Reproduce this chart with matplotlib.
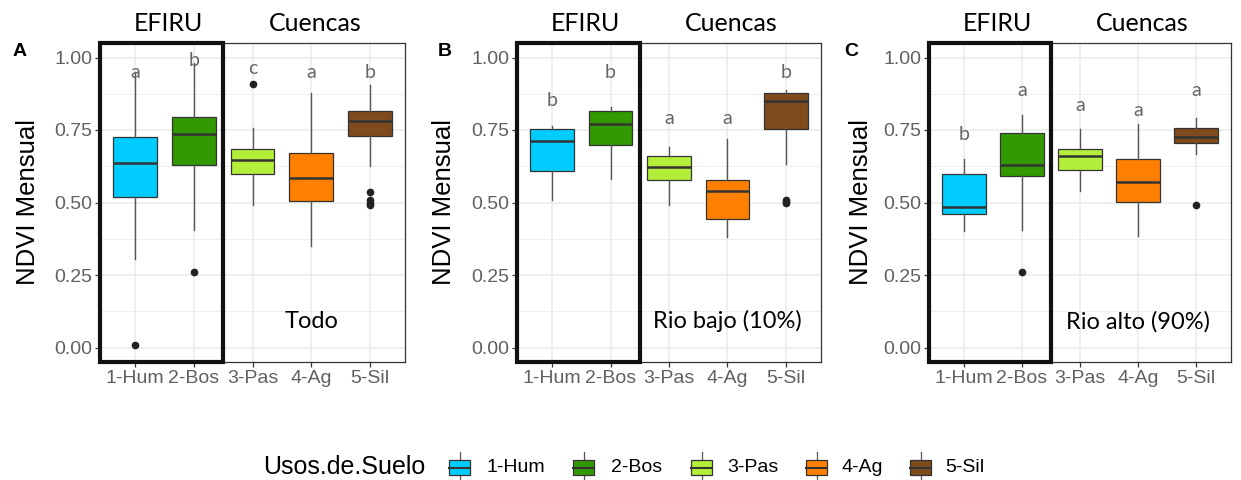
import matplotlib
matplotlib.use("Agg")
import matplotlib.pyplot as plt
from matplotlib.patches import Rectangle
from matplotlib.lines import Line2D
from matplotlib.transforms import blended_transform_factory

# ---------------- data ----------------
categories = ['1-Hum', '2-Bos', '3-Pas', '4-Ag', '5-Sil']
colors = ['#00CCFF', '#339900', '#B3EE3A', '#FF8000', '#7F4A1C']

# Panel A (Todo)
A_lo = [0.305, 0.405, 0.493, 0.351, 0.626]
A_q1 = [0.518, 0.630, 0.599, 0.506, 0.728]
A_med = [0.636, 0.737, 0.645, 0.585, 0.780]
A_q3 = [0.726, 0.795, 0.685, 0.672, 0.817]
A_hi = [0.950, 0.980, 0.758, 0.878, 0.904]
A_out = [[0.010], [0.259], [0.907], [], [0.536, 0.507, 0.498, 0.490]]
A_letters = ['a', 'b', 'c', 'a', 'b']
A_letter_y = [0.947, 0.988, 0.962, 0.950, 0.950]

# Panel B (Rio bajo)
B_lo = [0.509, 0.582, 0.493, 0.382, 0.634]
B_q1 = [0.608, 0.697, 0.576, 0.442, 0.753]
B_med = [0.713, 0.772, 0.624, 0.541, 0.849]
B_q3 = [0.752, 0.817, 0.659, 0.578, 0.876]
B_hi = [0.765, 0.829, 0.691, 0.720, 0.887]
B_out = [[], [], [], [], [0.509, 0.503, 0.498]]
B_letters = ['b', 'b', 'a', 'a', 'b']
B_letter_y = [0.853, 0.950, 0.789, 0.789, 0.950]

# Panel C (Rio alto)
C_lo = [0.403, 0.406, 0.538, 0.386, 0.666]
C_q1 = [0.460, 0.591, 0.611, 0.502, 0.706]
C_med = [0.486, 0.629, 0.661, 0.571, 0.726]
C_q3 = [0.599, 0.740, 0.684, 0.649, 0.757]
C_hi = [0.651, 0.801, 0.755, 0.772, 0.793]
C_out = [[], [0.259], [], [], [0.490]]
C_letters = ['b', 'a', 'a', 'a', 'a']
C_letter_y = [0.734, 0.885, 0.835, 0.818, 0.885]

panel_tags = ['A', 'B', 'C']
panel_notes = ['Todo', 'Rio bajo (10%)', 'Rio alto (90%)']
y_ticks = [0.00, 0.25, 0.50, 0.75, 1.00]
y_ticklabels = ['0.00', '0.25', '0.50', '0.75', '1.00']
legend_title = 'Usos.de.Suelo'

panels = [
    (A_lo, A_q1, A_med, A_q3, A_hi, A_out, A_letters, A_letter_y),
    (B_lo, B_q1, B_med, B_q3, B_hi, B_out, B_letters, B_letter_y),
    (C_lo, C_q1, C_med, C_q3, C_hi, C_out, C_letters, C_letter_y),
]

# ---------------- figure ----------------
W, H = 1241, 480
fig = plt.figure(figsize=(W / 100, H / 100), dpi=100)
fig.patch.set_facecolor('white')

SANS = ['Liberation Sans', 'DejaVu Sans']
CAL = ['Lato', 'DejaVu Sans']

axes_px = [(100, 305), (517, 304), (929, 302)]
top_px, bot_px = 43, 362
tag_x = [20, 445, 851]
ylab_x = [28, 444, 861]

for i, (ax_l, ax_w) in enumerate(axes_px):
    lo, q1, med, q3, hi, outs, letters, ly = panels[i]
    ax = fig.add_axes([ax_l / W, (H - bot_px) / H, ax_w / W, (bot_px - top_px) / H])
    ax.set_facecolor('white')
    stats = []
    for k in range(len(categories)):
        stats.append(dict(med=med[k], q1=q1[k], q3=q3[k], whislo=lo[k], whishi=hi[k],
                          fliers=outs[k], label=categories[k]))
    bp = ax.bxp(stats, positions=range(1, 6), widths=0.75, patch_artist=True,
                showcaps=False, zorder=3,
                boxprops=dict(edgecolor='#333333', linewidth=0.9),
                medianprops=dict(color='#333333', linewidth=1.8),
                whiskerprops=dict(color='#555555', linewidth=1.0),
                flierprops=dict(marker='o', markerfacecolor='#222222',
                                markeredgecolor='#222222', markersize=4.5))
    for patch, c in zip(bp['boxes'], colors):
        patch.set_facecolor(c)

    ax.set_xlim(0.4, 5.6)
    ax.set_ylim(-0.05, 1.05)
    ax.set_yticks(y_ticks)
    ax.set_yticklabels(y_ticklabels)
    ax.set_yticks([0.125, 0.375, 0.625, 0.875], minor=True)
    ax.set_xticks(range(1, 6))
    ax.set_xticklabels(categories)
    ax.grid(True, which='major', color='#EBEBEB', linewidth=1.1, zorder=0)
    ax.grid(True, which='minor', axis='y', color='#EBEBEB', linewidth=0.6, zorder=0)
    ax.set_axisbelow(True)
    ax.tick_params(axis='both', which='major', length=3.5, width=0.9, color='#333333',
                   labelcolor='#606060', labelsize=14, pad=2)
    ax.tick_params(axis='y', which='minor', length=0)
    for lab in ax.get_xticklabels() + ax.get_yticklabels():
        lab.set_family(SANS)
    for sp in ax.spines.values():
        sp.set_color('#333333')
        sp.set_linewidth(0.9)

    # letters above boxes
    for k in range(len(categories)):
        ax.text(k + 1, ly[k], letters[k], ha='center', va='center', fontsize=14,
                color='#666666', family=CAL, zorder=4)

    # thick EFIRU rectangle
    tr = blended_transform_factory(ax.transData, ax.transAxes)
    ax.add_patch(Rectangle((0.4, 0.0), 2.1, 1.0, transform=tr, fill=False,
                           edgecolor='#111111', linewidth=3.0, clip_on=False, zorder=6))

    # annotations
    ax.text(1.57, 1.06, 'EFIRU', transform=tr, ha='center', va='center',
            fontsize=18, family=CAL, color='black')
    ax.text(4.07, 1.06, 'Cuencas', transform=tr, ha='center', va='center',
            fontsize=18, family=CAL, color='black')
    ax.text(4.0, 0.09, panel_notes[i], ha='center', va='center', fontsize=17,
            family=CAL, color='black', zorder=5)

    fig.text(tag_x[i] / W, (H - 51) / H, panel_tags[i], ha='center', va='center',
             fontsize=14, fontweight='bold', family=SANS)
    fig.text(ylab_x[i] / W, (H - 202) / H, 'NDVI Mensual', rotation=90,
             ha='center', va='center', fontsize=18.5, family=SANS)

# ---------------- legend (manual) ----------------
lax = fig.add_axes([0, 0, 1, 1], facecolor='none')
lax.set_xlim(0, W)
lax.set_ylim(H, 0)
lax.axis('off')
ly_c = 467
lax.text(263, ly_c, legend_title, ha='left', va='center', fontsize=18, family=SANS)
key_x = [449, 573, 691, 806, 910]
lab_x = [486, 611, 727, 842, 945]
for k, (kx, c) in enumerate(zip(key_x, colors)):
    lax.add_line(Line2D([kx + 10.5, kx + 10.5], [452, 482], color='#555555', linewidth=0.9))
    lax.add_patch(Rectangle((kx, 460), 21, 15, facecolor=c, edgecolor='#333333',
                            linewidth=0.9, zorder=3))
    lax.add_line(Line2D([kx, kx + 21], [467.5, 467.5], color='#333333', linewidth=1.5, zorder=4))
    lax.text(lab_x[k], ly_c, categories[k], ha='left', va='center', fontsize=14, family=SANS)

fig.savefig('out.png', dpi=100, facecolor='white')
